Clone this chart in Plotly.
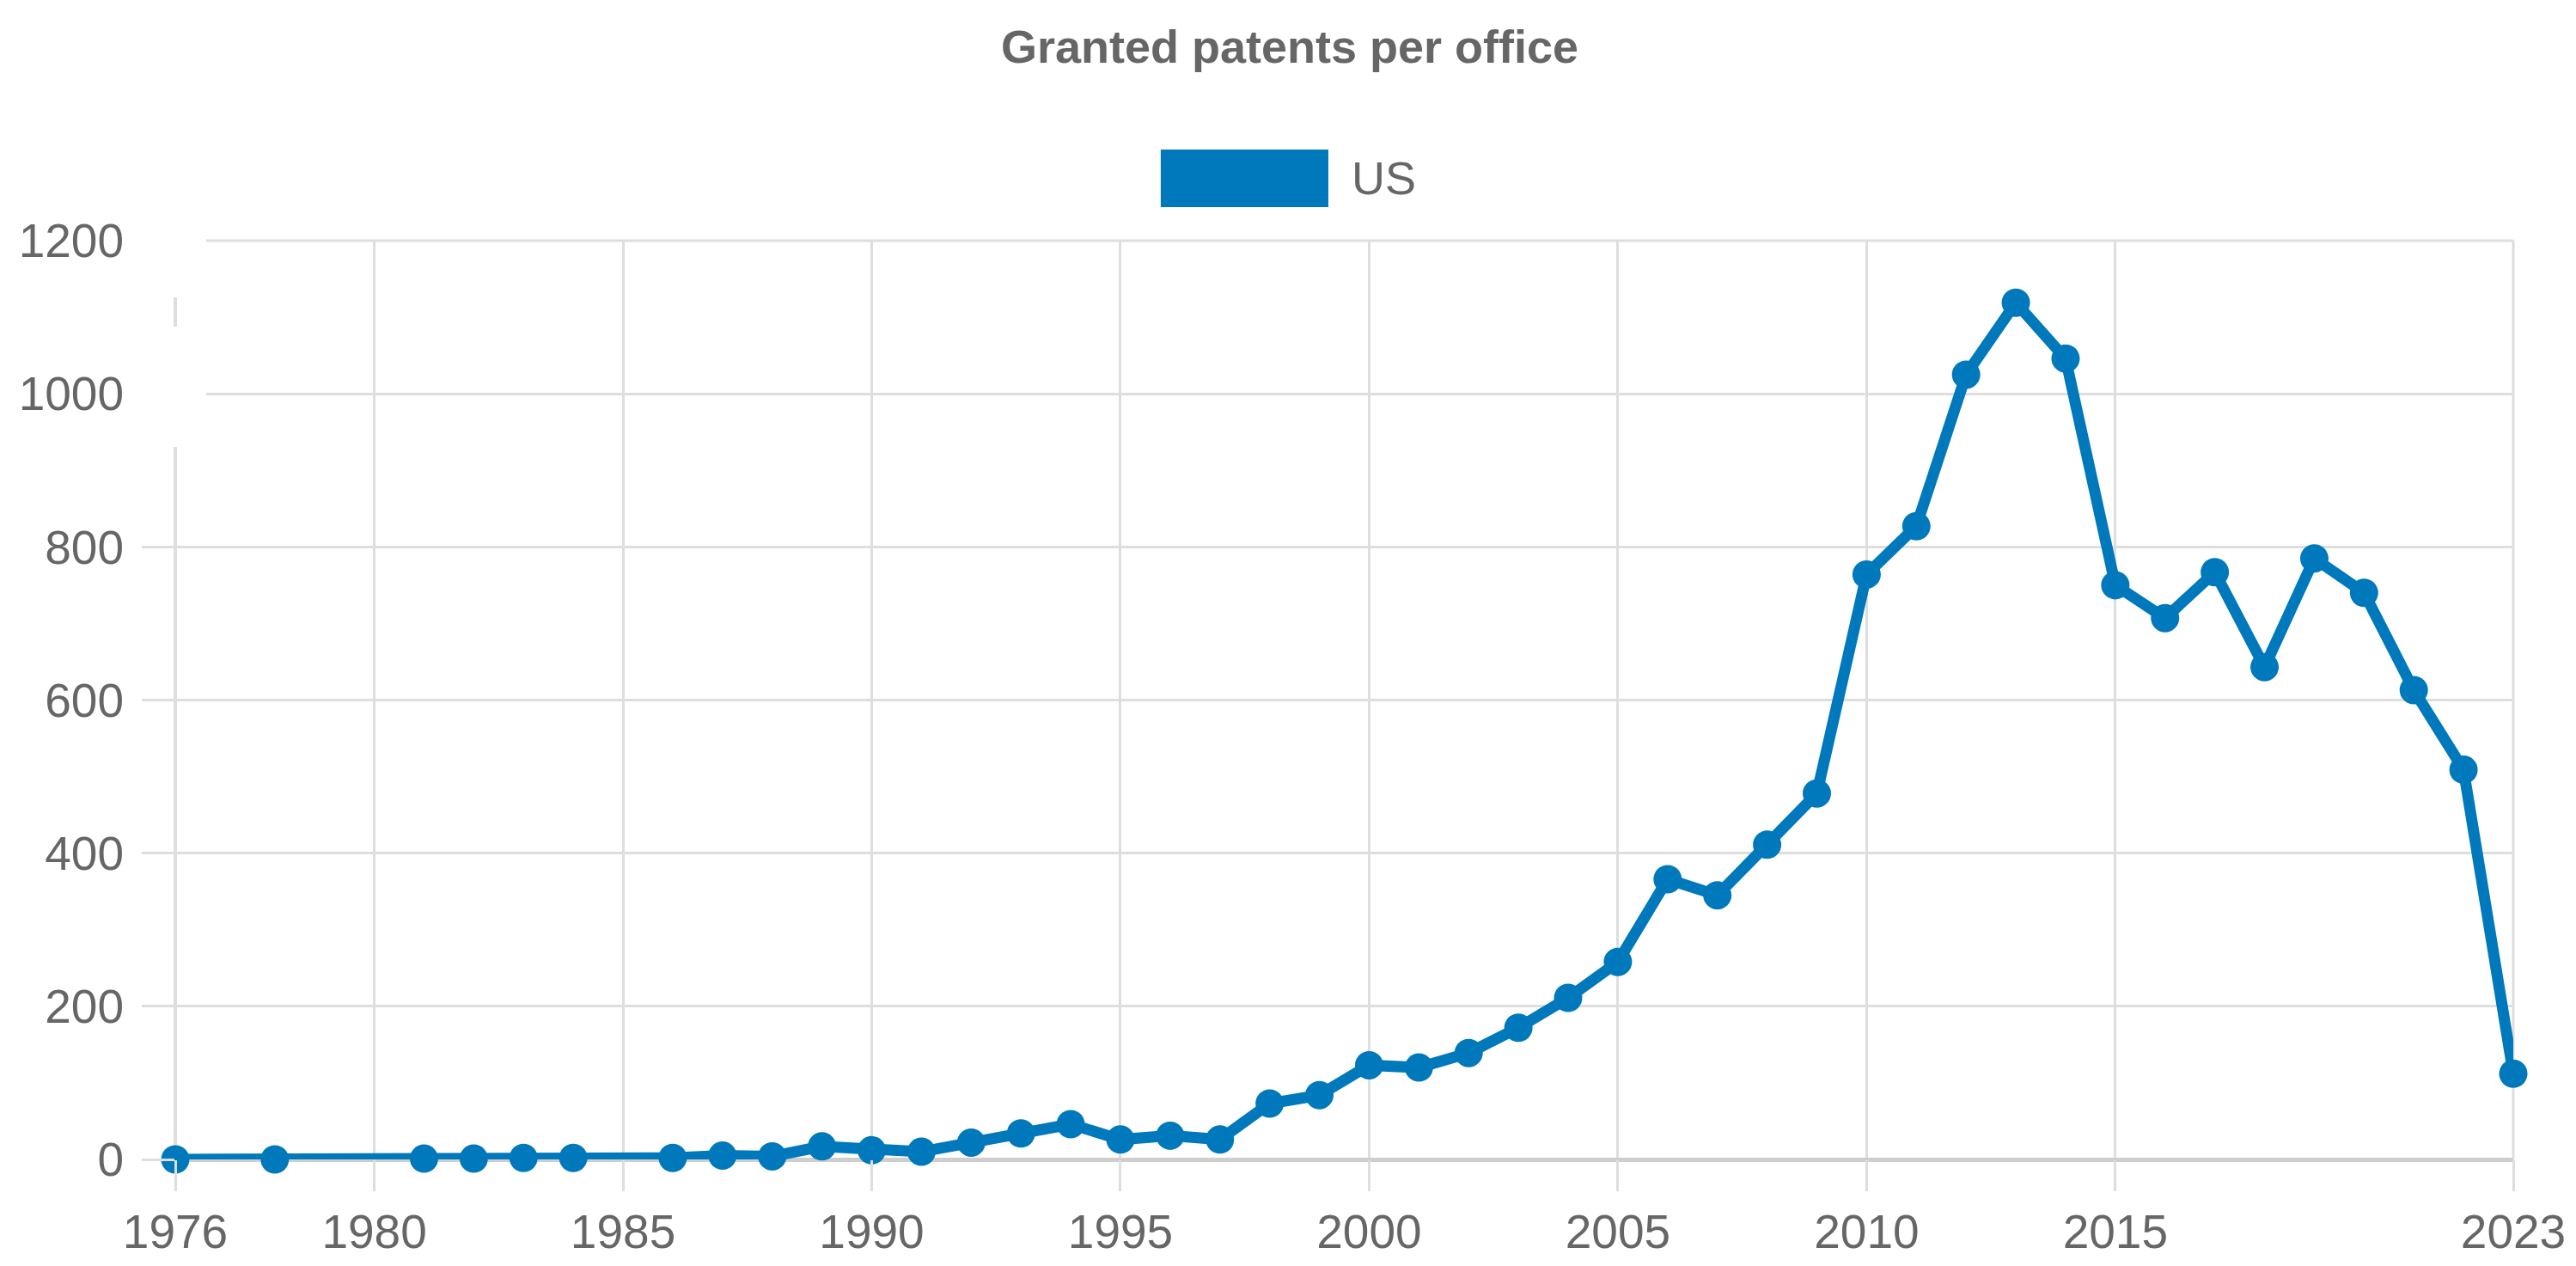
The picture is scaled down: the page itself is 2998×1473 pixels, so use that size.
import plotly.graph_objects as go

# Data
years = [1976, 1978, 1981, 1982, 1983, 1984, 1986, 1987, 1988, 1989, 1990, 1991,
         1992, 1993, 1994, 1995, 1996, 1997, 1998, 1999, 2000, 2001, 2002, 2003,
         2004, 2005, 2006, 2007, 2008, 2009, 2010, 2011, 2012, 2013, 2014, 2015,
         2016, 2017, 2018, 2019, 2020, 2021, 2022, 2023]
us_granted = [0, 0, 1, 1, 2, 2, 2, 5, 4, 17, 12, 10,
              22, 34, 46, 26, 31, 26, 73, 84, 123, 120, 139, 172,
              211, 258, 366, 345, 411, 478, 764, 827, 1025, 1119, 1046, 750,
              707, 767, 643, 785, 740, 613, 509, 112]
x_tick_vals = [1976, 1980, 1985, 1990, 1995, 2000, 2005, 2010, 2015, 2023]
x_tick_text = ["1976", "1980", "1985", "1990", "1995", "2000", "2005", "2010", "2015", "2023"]
y_tick_vals = [0, 200, 400, 600, 800, 1000, 1200]

series_name = "US"
title_text = "Granted patents per office"
line_color = "#0079BC"
text_color = "#666666"
grid_color = "#dedede"
font_family = "Liberation Sans, Arial, sans-serif"

fig = go.Figure()
fig.add_trace(go.Scatter(
    x=years, y=us_granted, name=series_name, mode="lines+markers",
    line=dict(color=line_color, width=13),
    marker=dict(color=line_color, size=33),
    cliponaxis=False, showlegend=False,
))

# Legend drawn as a large colour box + label (Chart.js style)
fig.add_shape(type="rect", xref="paper", yref="paper",
              x0=0.4215, x1=0.4932, y0=1.0365, y1=1.0992,
              fillcolor=line_color, line=dict(width=0))
fig.add_annotation(text=series_name, xref="paper", yref="paper",
                   x=0.5024, y=1.0683, xanchor="left", yanchor="middle",
                   showarrow=False, font=dict(size=54, color=text_color, family=font_family))

# grid lines on the plot edges (plotly omits gridlines on range bounds)
for (ex0, ey0, ex1, ey1, ew) in [(0, 0, 0, 1, 4), (1, 0, 1, 1, 3), (0, 1, 1, 1, 3)]:
    fig.add_shape(type="line", xref="paper", yref="paper", layer="below",
                  x0=ex0, y0=ey0, x1=ex1, y1=ey1,
                  line=dict(color=grid_color, width=ew))

# white masks reproducing the gaps in the left edge of the reference grid
for (m0, m1) in [(0.9383, 1.0159), (0.7755, 0.9065)]:
    fig.add_shape(type="rect", xref="paper", yref="paper", layer="above",
                  x0=-0.0176, x1=0.0132, y0=m0, y1=m1,
                  fillcolor="white", line=dict(width=0))

fig.update_layout(
    width=2998, height=1473,
    margin=dict(l=196, r=81, t=272, b=132),
    paper_bgcolor="white", plot_bgcolor="white",
    font=dict(family=font_family, color=text_color, size=54),
    title=dict(text=f"<b>{title_text}</b>", x=0.498, xref="container", xanchor="center",
               y=1 - 46 / 1473, yanchor="middle", yref="container",
               font=dict(size=54, color=text_color, family=font_family)),
    showlegend=False,
)
fig.update_xaxes(
    range=[1976, 2023], tickmode="array", tickvals=x_tick_vals, ticktext=x_tick_text,
    showgrid=True, gridcolor=grid_color, gridwidth=3,
    ticks="outside", ticklen=36, tickwidth=3, tickcolor=grid_color,
    showline=False, zeroline=False,
    tickfont=dict(size=55, color=text_color),
)
fig.update_yaxes(
    range=[0, 1200], tickmode="array", tickvals=y_tick_vals,
    showgrid=True, gridcolor=grid_color, gridwidth=3,
    ticks="outside", ticklen=38, tickwidth=3, tickcolor=grid_color,
    showline=False, zeroline=True, zerolinecolor="#cecece", zerolinewidth=5,
    tickfont=dict(size=55, color=text_color), ticklabelstandoff=10,
)

fig.write_html("out.html")
